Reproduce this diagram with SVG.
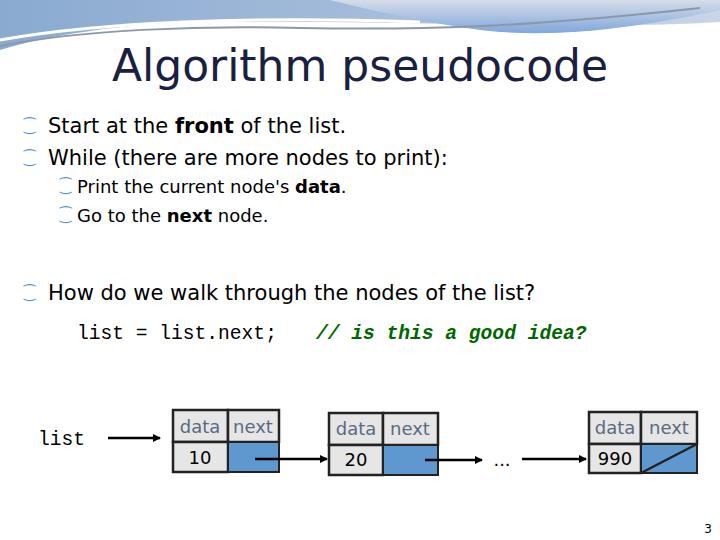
<svg xmlns="http://www.w3.org/2000/svg" width="720" height="540" viewBox="0 0 720 540">
<defs>
<linearGradient id="sky" x1="0" y1="0" x2="1" y2="0"><stop offset="0" stop-color="#8aaad0"/><stop offset="0.6" stop-color="#a9bfdc"/><stop offset="1" stop-color="#c9d6e8"/></linearGradient>
<linearGradient id="sw" x1="0" y1="0" x2="0" y2="1"><stop offset="0" stop-color="#d6dde8"/><stop offset="1" stop-color="#7fa7dc"/></linearGradient>
<marker id="ah" markerWidth="8" markerHeight="8" refX="7" refY="4" orient="auto" markerUnits="userSpaceOnUse"><path d="M0,0 L8,4 L0,8 Z" fill="#000"/></marker>
<style>
.t{font-family:"DejaVu Sans",sans-serif;fill:#000}
.b{font-family:"DejaVu Sans",sans-serif;fill:#5a8fc8;font-size:14px}
.m{font-family:"Liberation Mono",monospace;font-size:19.6px}
.hd{fill:#e6e6e6;stroke:#222;stroke-width:2.5}
.bl{fill:#5f97cf;stroke:#222;stroke-width:2}
.lb{font-family:"DejaVu Sans",sans-serif;font-size:18px;fill:#5a6a80}
.v{font-family:"DejaVu Sans",sans-serif;font-size:18px;fill:#000}
.c{stroke:#000;stroke-width:2.5;fill:none;marker-end:url(#ah)}
</style>
</defs>
<rect width="720" height="540" fill="#fff"/>
<path d="M0,0 H720 V22 C600,30 400,20 200,22 C120,24 50,35 0,50 Z" fill="url(#sky)"/>
<path d="M330,0 H720 V10 C650,25 560,40 480,30 C420,22 370,10 330,0 Z" fill="url(#sw)"/>
<path d="M0,46 C80,30 200,25 300,28 C420,30 520,28 700,8" stroke="#8c98aa" stroke-width="2" fill="none"/>
<path d="M0,40 C100,22 250,16 420,22" stroke="#fff" stroke-width="3" fill="none"/>
<text x="360" y="81" text-anchor="middle" class="t" font-size="44" style="fill:#1a2040">Algorithm pseudocode</text>
<g class="b">
<text x="24" y="131">⁐</text><text x="24" y="163">⁐</text><text x="24" y="298">⁐</text>
<text x="60" y="191">⁐</text><text x="60" y="220">⁐</text>
</g>
<g class="t" font-size="21">
<text x="48" y="133">Start at the <tspan font-weight="bold">front</tspan> of the list.</text>
<text x="48" y="165">While (there are more nodes to print):</text>
<text x="48" y="300">How do we walk through the nodes of the list?</text>
</g>
<g class="t" font-size="18">
<text x="77" y="193">Print the current node's <tspan font-weight="bold">data</tspan>.</text>
<text x="77" y="222">Go to the <tspan font-weight="bold">next</tspan> node.</text>
</g>
<text x="77" y="339" class="m">list = list.next;</text>
<text x="316" y="339" class="m" font-style="italic" fill="#006600" font-weight="bold">// is this a good idea?</text>
<text x="38" y="445" class="m">list</text>
<g id="node1">
<rect x="173" y="410" width="55" height="32" class="hd"/><rect x="228" y="410" width="51" height="32" class="hd"/>
<rect x="173" y="442" width="55" height="30" class="hd"/><rect x="228" y="442" width="51" height="30" class="bl"/>
<text x="200" y="433" text-anchor="middle" class="lb">data</text><text x="253" y="433" text-anchor="middle" class="lb">next</text>
<text x="200" y="464" text-anchor="middle" class="v">10</text>
</g>
<g id="node2">
<rect x="329" y="413" width="54" height="32" class="hd"/><rect x="383" y="413" width="55" height="32" class="hd"/>
<rect x="329" y="445" width="54" height="30" class="hd"/><rect x="383" y="445" width="55" height="30" class="bl"/>
<text x="356" y="435" text-anchor="middle" class="lb">data</text><text x="410" y="435" text-anchor="middle" class="lb">next</text>
<text x="356" y="466" text-anchor="middle" class="v">20</text>
</g>
<g id="node3">
<rect x="589" y="412" width="52" height="32" class="hd"/><rect x="641" y="412" width="56" height="32" class="hd"/>
<rect x="589" y="444" width="52" height="29" class="hd"/><rect x="641" y="444" width="56" height="29" class="bl"/>
<line x1="641" y1="473" x2="697" y2="444" stroke="#222" stroke-width="2.5"/>
<text x="615" y="434" text-anchor="middle" class="lb">data</text><text x="669" y="434" text-anchor="middle" class="lb">next</text>
<text x="615" y="465" text-anchor="middle" class="v">990</text>
</g>
<text x="502" y="466" text-anchor="middle" class="v">...</text>
<g id="connectors">
<line x1="108" y1="438" x2="160" y2="438" class="c"/>
<line x1="255" y1="459" x2="327" y2="459" class="c"/>
<line x1="425" y1="460" x2="482" y2="460" class="c"/>
<line x1="522" y1="459" x2="586" y2="459" class="c"/>
</g>
<text x="712" y="533" text-anchor="end" class="t" font-size="12">3</text>
</svg>
